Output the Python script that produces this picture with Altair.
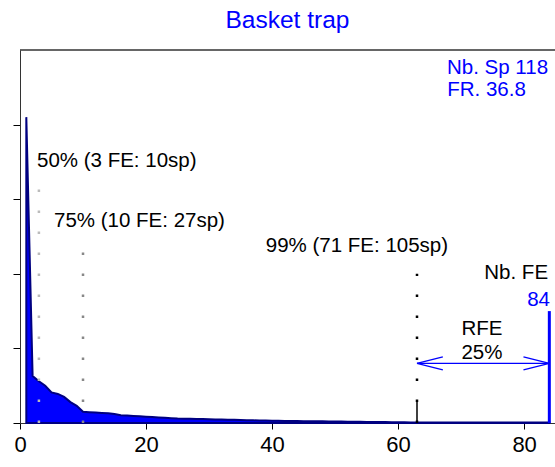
import altair as alt
import pandas as pd

# Species share per functional entity (FE), ranked from most to least species-rich
fe_rank = list(range(1, 85))
fe_value = [
    4.10, 0.63, 0.56, 0.50, 0.41, 0.39, 0.35, 0.28, 0.23, 0.15,
    0.145, 0.14, 0.135, 0.13, 0.12, 0.105, 0.10, 0.095, 0.09, 0.085,
    0.08, 0.075, 0.07, 0.065, 0.06, 0.058, 0.056, 0.054, 0.052, 0.05,
    0.048, 0.046, 0.044, 0.042, 0.040, 0.038, 0.036, 0.034, 0.032, 0.030,
    0.029, 0.028, 0.027, 0.026, 0.025, 0.024, 0.023, 0.022, 0.021, 0.020,
    0.019, 0.018, 0.017, 0.016, 0.015, 0.014, 0.013, 0.012, 0.011, 0.010,
    0.009, 0.008, 0.006, 0.006, 0.006, 0.006, 0.006, 0.006, 0.006, 0.006,
    0.006, 0.006, 0.006, 0.006, 0.006, 0.006, 0.006, 0.006, 0.006, 0.006,
    0.006, 0.006, 0.006, 0.006,
]

# Cumulative thresholds: FE position, top of the marker line, colour
thr_x = [3, 10, 63]
thr_top = [3.15, 2.36, 2.0]
thr_color = ["#BBBBBB", "#888888", "#000000"]

nb_fe = 84
rfe_level = 0.80
y_max = 5

FONT = "Liberation Sans"
BLUE = "#0000FF"

x_scale = alt.Scale(domain=[0, 84.9], nice=False, zero=False)
y_scale = alt.Scale(domain=[0, y_max], nice=False)

curve = pd.DataFrame({"fe": fe_rank, "v": fe_value})

area = alt.Chart(curve).mark_area(
    fill=BLUE, stroke="#000080", strokeWidth=2, opacity=1, interpolate="linear"
).encode(
    x=alt.X("fe:Q", scale=x_scale,
            axis=alt.Axis(values=[0, 20, 40, 60, 80], title=None, grid=False,
                          labelFontSize=22, labelFont=FONT, labelColor="black",
                          tickSize=6, tickColor="black", domainColor="#333333",
                          labelPadding=5, labelFlush=False)),
    y=alt.Y("v:Q", scale=y_scale,
            axis=alt.Axis(values=[0, 1, 2, 3, 4], labels=False, title=None,
                          grid=False, tickSize=7, tickColor="black",
                          domainColor="#333333")),
)

top_line = alt.Chart(pd.DataFrame({"a": [0]})).mark_rule(
    color="#333333", strokeWidth=1.5
).encode(y=alt.datum(y_max, scale=y_scale))

thr = pd.DataFrame({"x": thr_x, "y0": [0] * 3, "y1": thr_top, "c": thr_color})
thr_lines = alt.Chart(thr).mark_rule(strokeWidth=2.5, strokeDash=[2.5, 18.5]).encode(
    x=alt.X("x:Q", scale=x_scale),
    y=alt.Y("y0:Q", scale=y_scale),
    y2="y1:Q",
    color=alt.Color("c:N", scale=None),
)

# Short solid foot of the 99% marker
thr_foot = alt.Chart(pd.DataFrame({"x": [thr_x[2]], "y0": [0], "y1": [0.28]})).mark_rule(
    color="black", strokeWidth=1.5
).encode(x=alt.X("x:Q", scale=x_scale), y=alt.Y("y0:Q", scale=y_scale), y2="y1:Q")

fe_line = alt.Chart(pd.DataFrame({"x": [nb_fe], "y0": [0], "y1": [1.5]})).mark_rule(
    color=BLUE, strokeWidth=3
).encode(x=alt.X("x:Q", scale=x_scale), y=alt.Y("y0:Q", scale=y_scale), y2="y1:Q")

# Double-headed arrow spanning the redundant FE range
hx, hy = 4.1, 0.087
arrow = pd.DataFrame({
    "x0": [thr_x[2], thr_x[2], thr_x[2], nb_fe, nb_fe],
    "x1": [nb_fe, thr_x[2] + hx, thr_x[2] + hx, nb_fe - hx, nb_fe - hx],
    "y0": [rfe_level] * 5,
    "y1": [rfe_level, rfe_level + hy, rfe_level - hy, rfe_level + hy, rfe_level - hy],
})
arrows = alt.Chart(arrow).mark_rule(color=BLUE, strokeWidth=1.3).encode(
    x=alt.X("x0:Q", scale=x_scale), x2="x1:Q",
    y=alt.Y("y0:Q", scale=y_scale), y2="y1:Q",
)

labels = pd.DataFrame({
    "x": [2.7, 5.4, 39.0, 83.8, 84.1, 73.3, 73.3, 83.8, 67.8],
    "y": [3.51, 2.71, 2.37, 2.01, 1.65, 1.26, 0.94, 4.76, 4.47],
    "t": ["50% (3 FE: 10sp)", "75% (10 FE: 27sp)", "99% (71 FE: 105sp)",
          "Nb. FE", "84", "RFE", "25%", "Nb. Sp 118", "FR. 36.8"],
    "c": ["black", "black", "black", "black", BLUE, "black", "black", BLUE, BLUE],
    "a": ["left", "left", "left", "right", "right", "center", "center", "right", "left"],
})

def text_layer(align):
    return alt.Chart(labels[labels.a == align]).mark_text(
        align=align, baseline="middle", font=FONT, fontSize=20.5
    ).encode(
        x=alt.X("x:Q", scale=x_scale),
        y=alt.Y("y:Q", scale=y_scale),
        text="t:N",
        color=alt.Color("c:N", scale=None),
    )

chart = alt.layer(
    area, thr_lines, thr_foot, fe_line, arrows, top_line,
    text_layer("left"), text_layer("right"), text_layer("center"),
).properties(
    width=535, height=373,
    title=alt.TitleParams("Basket trap", color=BLUE, fontSize=24.5, font=FONT,
                          fontWeight="normal", anchor="middle", offset=16),
    autosize=alt.AutoSizeParams(type="none"),
    padding={"left": 20, "top": 50, "right": 0, "bottom": 44},
).configure_view(stroke=None)

chart.save("out.html", embed_options={"renderer": "svg", "actions": False})
